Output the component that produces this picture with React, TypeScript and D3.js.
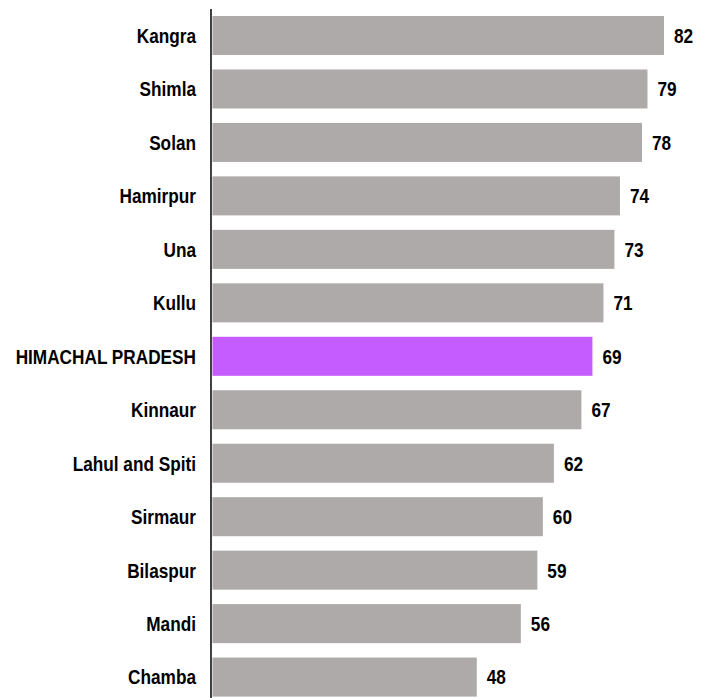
import React from "react";
import * as d3 from "d3";

const districts = [
  "Kangra",
  "Shimla",
  "Solan",
  "Hamirpur",
  "Una",
  "Kullu",
  "HIMACHAL PRADESH",
  "Kinnaur",
  "Lahul and Spiti",
  "Sirmaur",
  "Bilaspur",
  "Mandi",
  "Chamba",
];
const values = [82, 79, 78, 74, 73, 71, 69, 67, 62, 60, 59, 56, 48];
const highlight = "HIMACHAL PRADESH";

const W = 706;
const H = 698;
const FONT = "'Liberation Sans', Arial, sans-serif";
const NARROW = 0.82;

export default function App() {
  const x = d3.scaleLinear().domain([0, 82]).range([212.5, 664]);
  const y = d3
    .scaleBand<string>()
    .domain(districts)
    .range([16, 696.6])
    .paddingInner(0.27)
    .paddingOuter(0);
  const axisX = 211;

  return (
    <svg
      width={W}
      height={H}
      style={{ position: "absolute", left: 0, top: 0, background: "#fff" }}
    >
      {districts.map((d, i) => {
        const yy = y(d) as number;
        const bw = y.bandwidth();
        const v = values[i];
        const cy = yy + bw / 2;
        return (
          <g key={d}>
            <rect
              x={x(0)}
              y={yy}
              width={x(v) - x(0)}
              height={bw}
              fill={d === highlight ? "#C55CFF" : "#AEAAAA"}
            />
            <text
              transform={`translate(${axisX - 15},${cy}) scale(${NARROW},1)`}
              dy="0.35em"
              textAnchor="end"
              fontFamily={FONT}
              fontWeight="bold"
              fontSize={21}
              fill="#000"
            >
              {d}
            </text>
            <text
              transform={`translate(${x(v) + 10},${cy}) scale(${NARROW},1)`}
              dy="0.35em"
              textAnchor="start"
              fontFamily={FONT}
              fontWeight="bold"
              fontSize={21}
              fill="#000"
            >
              {v}
            </text>
          </g>
        );
      })}
      <line x1={axisX} x2={axisX} y1={9} y2={H} stroke="#000" strokeWidth={1.5} />
    </svg>
  );
}
